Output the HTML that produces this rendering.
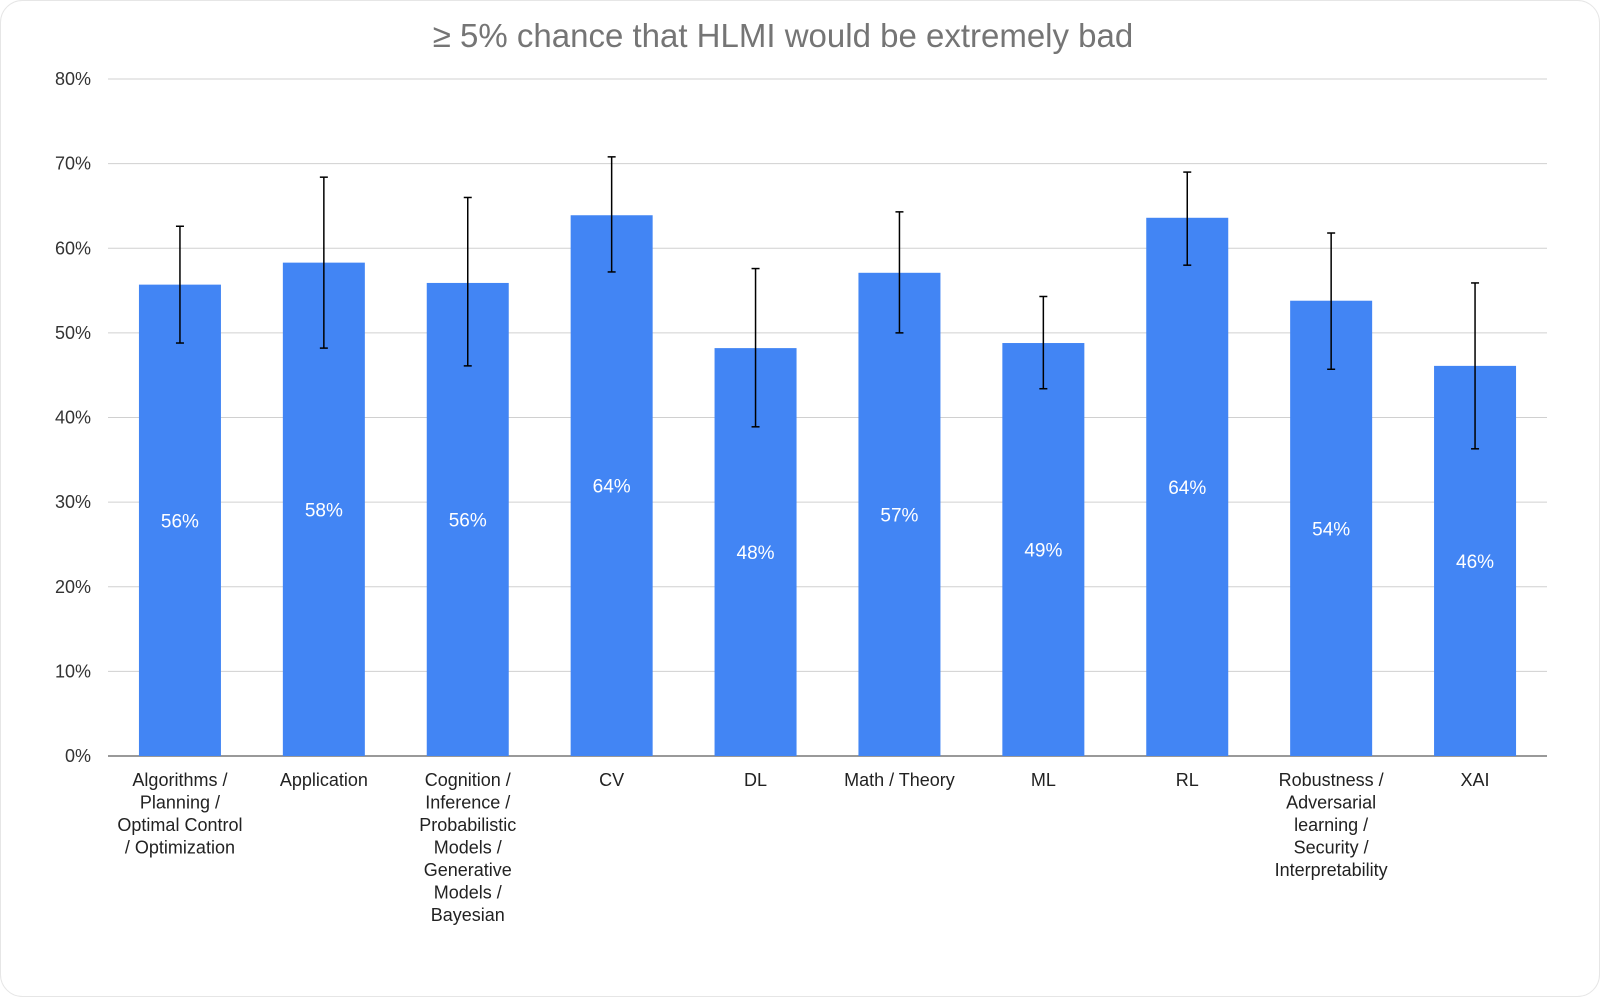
<!DOCTYPE html>
<html><head><meta charset="utf-8"><style>
body{margin:0;background:#fff;}
svg{display:block;font-family:"Liberation Sans",Arial,sans-serif;}
</style></head><body>
<svg id="chart" width="1600" height="997" xmlns="http://www.w3.org/2000/svg">
<rect x="0.5" y="0.5" width="1599" height="996" rx="22" fill="#fff" stroke="#e6e6e6"/>
<text x="783" y="47" text-anchor="middle" font-size="33" fill="#757575">≥ 5% chance that HLMI would be extremely bad</text>
<g id="grid"></g>
<g id="bars"></g>
<g id="xlabels"></g>
</svg>
<script>
const categories = [["Algorithms /","Planning /","Optimal Control","/ Optimization"],["Application"],["Cognition /","Inference /","Probabilistic","Models /","Generative","Models /","Bayesian"],["CV"],["DL"],["Math / Theory"],["ML"],["RL"],["Robustness /","Adversarial","learning /","Security /","Interpretability"],["XAI"]];
const values = [55.7,58.3,55.9,63.9,48.2,57.1,48.8,63.6,53.8,46.1];
const valueLabels = ["56%","58%","56%","64%","48%","57%","49%","64%","54%","46%"];
const errHigh = [62.6,68.4,66.0,70.8,57.6,64.3,54.3,69.0,61.8,55.9];
const errLow = [48.8,48.2,46.1,57.2,38.9,50.0,43.4,58.0,45.7,36.3];
const yTicks = [0,10,20,30,40,50,60,70,80];
const NS="http://www.w3.org/2000/svg";
const x0=108,x1=1547,y0=756,y80=79;
const band=(x1-x0)/categories.length;
const yS=v=>y0-(v/80)*(y0-y80);
const xC=i=>x0+band*(i+0.5);
function mk(t,a,p){const e=document.createElementNS(NS,t);for(const k in a)e.setAttribute(k,a[k]);p.appendChild(e);return e;}
const grid=document.getElementById('grid');
yTicks.forEach(t=>{
  const l=mk('line',{x1:x0,x2:x1,y1:yS(t),y2:yS(t),stroke:t===0?'#333':'#d0d0d0','stroke-width':1},grid);
  
  
  const tx=mk('text',{x:91,y:yS(t)+6,'text-anchor':'end','font-size':18,fill:'#333'},grid);
  tx.textContent=t+'%';
  
  
});
const bars=document.getElementById('bars');
const bw=82;
values.forEach((v,i)=>{
  const cx=xC(i);
  const r=mk('rect',{x:cx-bw/2,y:yS(v),width:bw,height:y0-yS(v),fill:'#4285f4'},bars);
  
  
  const t=mk('text',{x:cx,y:(yS(v)+y0)/2+7,'text-anchor':'middle','font-size':19,fill:'#fff'},bars);
  t.textContent=valueLabels[i];
  
  
  const g=mk('g',{stroke:'#000','stroke-width':1.5},bars);
  
  
  mk('line',{x1:cx,x2:cx,y1:yS(errHigh[i]),y2:yS(errLow[i])},g);
  mk('line',{x1:cx-4,x2:cx+4,y1:yS(errHigh[i]),y2:yS(errHigh[i])},g);
  mk('line',{x1:cx-4,x2:cx+4,y1:yS(errLow[i]),y2:yS(errLow[i])},g);
});
const xl=document.getElementById('xlabels');
categories.forEach((lines,i)=>{
  lines.forEach((s,j)=>{
    const t=mk('text',{x:xC(i),y:786+j*22.5,'text-anchor':'middle','font-size':18,fill:'#222'},xl);
    t.textContent=s;
    
    
  });
});
</script>
</body></html>
